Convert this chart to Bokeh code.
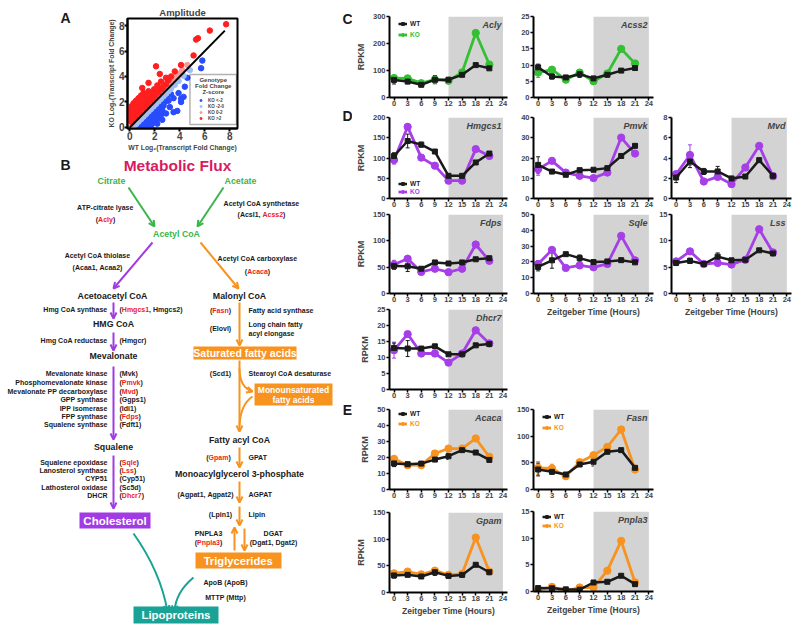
from bokeh.plotting import figure
from bokeh.layouts import row, column
from bokeh.models import (Range1d, Label, Arrow, OpenHead, Whisker, TeeHead,
                          ColumnDataSource, FixedTicker, Legend, LegendItem,
                          BoxAnnotation, Spacer)
from bokeh.embed import file_html
from bokeh.resources import INLINE
from bokeh.core.properties import value

FONT = "Liberation Sans"

# ======================= DATA =======================
# ---- Panel A: amplitude scatter (WT vs KO log2 fold change)
A_RED_X = [0.05, 0.05, 0.05, 0.05, 0.1, 0.25, 0.25, 0.25, 0.25, 0.3, 0.45, 0.45, 0.45, 0.45, 0.5,
           0.65, 0.65, 0.65, 0.65, 0.7, 0.85, 0.85, 0.85, 0.85, 0.9, 1.05, 1.05, 1.05, 1.05, 1.1,
           1.25, 1.25, 1.25, 1.3, 1.45, 1.45, 1.5, 1.5, 1.65, 1.65, 1.7, 1.85, 1.9, 1.95,
           2.05, 2.1, 2.2, 2.3, 2.4, 2.55, 2.7, 2.9, 3.1, 2.5,
           1.0, 1.5, 2.1, 2.4, 2.9, 3.6, 3.3, 4.1, 5.1, 5.3, 5.45, 6.4, 7.7, 0.15, 0.35]
A_RED_Y = [0.5, 0.8, 1.1, 1.4, 1.65, 0.7, 1.0, 1.3, 1.6, 1.9, 0.9, 1.2, 1.5, 1.8, 2.1,
           1.1, 1.4, 1.7, 2.0, 2.3, 1.3, 1.6, 1.9, 2.2, 2.5, 1.5, 1.8, 2.1, 2.4, 2.7,
           1.7, 2.0, 2.3, 2.6, 1.9, 2.2, 2.5, 2.85, 2.1, 2.4, 2.7, 2.3, 2.6, 3.0,
           2.5, 2.8, 3.3, 2.75, 3.1, 3.0, 3.2, 3.4, 3.7, 3.6,
           3.1, 3.5, 4.8, 4.2, 3.9, 4.4, 4.0, 4.9, 5.65, 6.9, 7.0, 7.6, 8.1, 0.45, 0.8]
A_SALMON_X = [0.1, 0.3, 0.5, 0.7, 0.9, 1.1, 1.3, 1.5, 1.7, 1.9, 2.1, 2.3, 2.5, 2.7, 2.9, 3.1,
              3.3, 3.5, 3.7, 3.9, 4.2, 4.6, 0.2, 0.6, 1.0, 1.4, 1.8, 2.2, 2.6, 3.0, 3.4, 3.8]
A_SALMON_Y = [0.35, 0.6, 0.8, 1.0, 1.2, 1.4, 1.6, 1.8, 2.0, 2.2, 2.4, 2.6, 2.8, 3.0, 3.2, 3.4,
              3.6, 3.8, 4.0, 4.2, 4.5, 4.9, 0.3, 0.75, 1.15, 1.55, 1.95, 2.35, 2.75, 3.15, 3.55, 3.95]
A_LBLUE_X = [0.3, 0.5, 0.7, 0.9, 1.1, 1.3, 1.5, 1.7, 1.9, 2.1, 2.3, 2.5, 2.7, 2.9, 3.1, 3.3,
             3.6, 3.9, 4.3, 4.8, 0.4, 0.8, 1.2, 1.6, 2.0, 2.4, 2.8, 3.2]
A_LBLUE_Y = [0.05, 0.25, 0.45, 0.65, 0.85, 1.05, 1.25, 1.45, 1.65, 1.85, 2.05, 2.25, 2.45, 2.65,
             2.85, 3.05, 3.35, 3.65, 4.05, 4.5, 0.25, 0.65, 1.05, 1.45, 1.85, 2.25, 2.65, 3.05]
A_BLUE_X = [0.5, 0.7, 0.9, 1.1, 1.3, 1.5, 1.7, 0.8, 1.0, 1.2, 1.4, 1.6, 1.8, 2.0,
            1.1, 1.3, 1.5, 1.7, 1.9, 2.1, 2.3, 1.4, 1.6, 1.8, 2.0, 2.2, 2.5,
            1.7, 1.9, 2.1, 2.3, 2.6, 2.0, 2.2, 2.4, 2.7, 2.3, 2.5, 2.8, 3.1, 2.7, 3.0, 3.3, 3.5,
            3.5, 3.8, 4.1, 4.1, 4.3, 3.9, 4.4, 4.6, 5.7, 5.8, 3.2, 2.9, 2.6, 2.2]
A_BLUE_Y = [0.05, 0.05, 0.05, 0.05, 0.05, 0.05, 0.1, 0.3, 0.3, 0.3, 0.3, 0.3, 0.35, 0.4,
            0.6, 0.6, 0.6, 0.6, 0.65, 0.7, 0.7, 0.9, 0.9, 0.9, 0.95, 1.0, 1.0,
            1.2, 1.2, 1.25, 1.3, 1.35, 1.5, 1.5, 1.6, 1.7, 1.8, 1.9, 2.0, 2.1, 2.2, 2.4, 2.6, 2.3,
            1.2, 1.3, 2.0, 2.25, 2.4, 2.7, 3.2, 3.9, 4.65, 5.25, 1.6, 1.1, 0.6, 0.3]
A_IDENTITY_X = [0, 7.6]
A_IDENTITY_Y = [0, 7.6]
A_TICKS = [0, 2, 4, 6, 8]
A_LEGEND_TITLE = ["Genotype", "Fold Change", "Z-score"]
A_LEGEND_LABELS = ["KO <-2", "KO -2-0", "KO 0-2", "KO >2"]
PANEL_LETTERS = ["A", "B", "C", "D", "E"]

# ---- Panels C-E: RPKM time courses
ZT = [0, 3, 6, 9, 12, 15, 18, 21]
ZT_TICKS = [0, 3, 6, 9, 12, 15, 18, 21, 24]
DARK_PHASE = [12, 24]

ACLY_WT = [65, 59, 47, 66, 66, 84, 120, 108]
ACLY_WT_ERR = [15, 8, 5, 15, 6, 35, 6, 8]
ACLY_KO = [72, 71, 53, 66, 62, 93, 239, 122]
ACLY_KO_ERR = [10, 6, 5, 8, 5, 20, 40, 15]

ACSS2_WT = [9.3, 6.5, 6.2, 7.2, 5.9, 7.0, 8.3, 9.1]
ACSS2_WT_ERR = [1.0, 0.8, 0.5, 1.0, 0.5, 3.0, 0.4, 1.5]
ACSS2_KO = [7.7, 8.6, 5.5, 7.7, 5.0, 7.4, 15.0, 10.5]
ACSS2_KO_ERR = [1.5, 0.5, 0.6, 0.8, 0.6, 1.5, 3.0, 2.5]

HMGCS1_WT = [105, 142, 133, 116, 56, 56, 89, 111]
HMGCS1_WT_ERR = [8, 17, 6, 4, 4, 22, 5, 4]
HMGCS1_KO = [95, 177, 101, 81, 44, 44, 122, 105]
HMGCS1_KO_ERR = [10, 6, 4, 4, 6, 6, 29, 4]

PMVK_WT = [16.6, 13.3, 11.7, 14.0, 14.2, 15.0, 21.0, 26.0]
PMVK_WT_ERR = [4, 1, 0.5, 0.5, 0.5, 7, 1.5, 1]
PMVK_KO = [14.5, 18.6, 12.8, 11.2, 10.1, 12.8, 30.1, 22.2]
PMVK_KO_ERR = [3, 0.8, 0.8, 0.5, 0.5, 1.5, 3.5, 1]

MVD_WT = [2.07, 3.65, 2.67, 2.67, 1.98, 2.17, 3.79, 2.24]
MVD_WT_ERR = [0.5, 0.6, 0.3, 0.5, 0.2, 0.9, 0.2, 0.1]
MVD_KO = [2.4, 4.3, 1.68, 2.14, 1.42, 3.06, 5.2, 2.2]
MVD_KO_ERR = [0.3, 1.0, 0.2, 0.3, 0.2, 0.3, 1.1, 0.1]

FDPS_WT = [52, 51.7, 47, 59, 57, 59, 65, 67]
FDPS_WT_ERR = [6, 10, 3, 3, 3, 21, 4, 5]
FDPS_KO = [55, 66, 41, 47, 40.5, 47, 93, 62]
FDPS_KO_ERR = [8, 4, 3, 3, 3, 5, 20, 6]

SQLE_WT = [16.8, 21, 24.9, 22.4, 19.9, 20.3, 21.1, 19.7]
SQLE_WT_ERR = [2.5, 5, 1, 2, 1, 5, 1, 1]
SQLE_KO = [18.7, 27.6, 16.2, 17.8, 16.6, 18.7, 36.5, 21]
SQLE_KO_ERR = [2, 1, 0.8, 0.8, 0.8, 2, 8, 1]

LSS_WT = [5.8, 6.2, 5.6, 7.0, 6.3, 6.4, 8.2, 7.6]
LSS_WT_ERR = [0.5, 0.5, 0.3, 0.7, 0.2, 1.6, 0.2, 0.3]
LSS_KO = [6.1, 8.0, 5.6, 5.8, 5.5, 6.4, 12.2, 7.8]
LSS_KO_ERR = [0.4, 0.3, 0.3, 0.3, 0.3, 0.5, 1.2, 0.3]

DHCR7_WT = [13, 12.8, 12.8, 13.5, 11, 11, 13.8, 14.2]
DHCR7_WT_ERR = [1.5, 2.5, 0.5, 0.5, 0.5, 2.5, 1.5, 0.8]
DHCR7_KO = [12.3, 17.3, 11.25, 11.25, 8.4, 11.25, 18.5, 14.4]
DHCR7_KO_ERR = [2.5, 0.5, 0.8, 0.5, 0.5, 2, 0.5, 0.5]

ACACA_WT = [16.3, 15.8, 16.2, 18.7, 20.8, 24.6, 23.1, 18.5]
ACACA_WT_ERR = [2, 1.5, 1, 0.5, 2, 4, 1, 2]
ACACA_KO = [19.2, 15.2, 15.2, 22.5, 25.6, 25.6, 31.9, 20.4]
ACACA_KO_ERR = [1.5, 1, 1, 1, 1, 2, 7, 4]

FASN_WT = [37.5, 33.1, 28.1, 46.9, 52, 70.7, 73.8, 40.6]
FASN_WT_ERR = [12, 4, 3, 3, 8, 33, 3, 4]
FASN_KO = [40.6, 39.4, 25, 51.2, 64.4, 80, 112.5, 37.5]
FASN_KO_ERR = [12, 8, 5, 3, 3, 5, 22, 4]

GPAM_WT = [32, 33.1, 30, 38, 31.1, 33, 52, 38]
GPAM_WT_ERR = [5, 3, 2, 6, 2, 14, 3, 2]
GPAM_KO = [36, 39.3, 34, 41, 33, 35, 103, 39.3]
GPAM_KO_ERR = [3, 3, 2, 3, 2, 3, 28, 2]

PNPLA3_WT = [0.64, 0.6, 0.4, 0.35, 1.69, 1.82, 2.95, 1.38]
PNPLA3_WT_ERR = [0.3, 0.2, 0.2, 0.1, 0.3, 1.2, 1.0, 0.3]
PNPLA3_KO = [0.32, 0.88, 0.1, 0.75, 0.75, 3.9, 9.5, 1.7]
PNPLA3_KO_ERR = [0.2, 0.3, 0.1, 0.3, 0.2, 1.3, 2.0, 0.8]

# ---- Panel B: metabolic flux diagram texts
FLUX_TITLE = "Metabolic Flux"
SUBSTRATES = ["Citrate", "Acetate", "Acetyl CoA"]
INTERMEDIATES = ["Acetoacetyl CoA", "HMG CoA", "Mevalonate", "Squalene",
                 "Malonyl CoA", "Fatty acyl CoA", "Monoacylglycerol 3-phosphate"]
PRODUCTS = ["Saturated fatty acids", "Monounsaturated\nfatty acids", "Cholesterol",
            "Triglycerides", "Lipoproteins"]
# (enzyme, genes, gene altered in KO)
STEP_ACLY = ("ATP-citrate lyase", ["Acly"], [True])
STEP_ACSS = ("Acetyl CoA synthetase", ["Acsl1", "Acss2"], [False, True])
STEP_THIOLASE = ("Acetyl CoA thiolase", ["Acaa1", "Acaa2"], [False, False])
STEP_ACACA = ("Acetyl CoA carboxylase", ["Acaca"], [True])
STEP_HMGCS = ("Hmg CoA synthase", ["Hmgcs1", "Hmgcs2"], [True, False])
STEP_HMGCR = ("Hmg CoA reductase", ["Hmgcr"], [False])
MEVALONATE_ENZ = ["Mevalonate kinase", "Phosphomevalonate kinase", "Mevalonate PP decarboxylase",
                  "GPP synthase", "IPP isomerase", "FPP synthase", "Squalene synthase"]
MEVALONATE_GENES = ["Mvk", "Pmvk", "Mvd", "Ggps1", "Idi1", "Fdps", "Fdft1"]
MEVALONATE_KO = [False, True, True, False, False, True, False]
SQUALENE_ENZ = ["Squalene epoxidase", "Lanosterol synthase", "CYP51", "Lathosterol oxidase", "DHCR"]
SQUALENE_GENES = ["Sqle", "Lss", "Cyp51", "Sc5d", "Dhcr7"]
SQUALENE_KO = [True, True, False, False, True]
STEP_FASN = ("Fatty acid synthase", ["Fasn"], [True])
STEP_ELOVL = ("Long chain fatty\nacyl elongase", ["Elovl"], [False])
STEP_SCD = ("Stearoyl CoA desaturase", ["Scd1"], [False])
STEP_GPAT = ("GPAT", ["Gpam"], [True])
STEP_AGPAT = ("AGPAT", ["Agpat1", "Agpat2"], [False, False])
STEP_LIPIN = ("Lipin", ["Lpin1"], [False])
STEP_PNPLA3 = ("PNPLA3", ["Pnpla3"], [True])
STEP_DGAT = ("DGAT", ["Dgat1", "Dgat2"], [False, False])
STEP_APOB = ("ApoB", ["ApoB"], [False])
STEP_MTTP = ("MTTP", ["Mttp"], [False])

# ======================= STYLE =======================
BLACK = "#1a1a1a"
RED = "#ec1c24"
GREEN_TXT = "#3cb54a"
PURPLE = "#a23be3"
ORANGE = "#f7931e"
TEAL = "#19a396"
PINK = "#d81b5f"
GREY = "#d3d3d3"
KO_GREEN = "#33c033"
KO_PURPLE = "#a63fe8"
KO_ORANGE = "#f7931e"
A_COLORS = {"blue": "#2a4cff", "lblue": "#9ec0f5", "salmon": "#f59a9a", "red": "#ff1f1f"}

# Arial/Liberation Sans Bold advance widths (1/1000 em)
_W = {" ": 278, "(": 333, ")": 333, ",": 278, "-": 333, ".": 278, ":": 333, "<": 584, ">": 584,
      "A": 722, "B": 722, "C": 722, "D": 722, "E": 667, "F": 611, "G": 778, "H": 722, "I": 278,
      "J": 556, "K": 722, "L": 611, "M": 833, "N": 722, "O": 778, "P": 667, "Q": 778, "R": 722,
      "S": 667, "T": 611, "U": 722, "V": 667, "W": 944, "X": 667, "Y": 667, "Z": 611,
      "a": 556, "b": 611, "c": 556, "d": 611, "e": 556, "f": 333, "g": 611, "h": 611, "i": 278,
      "j": 278, "k": 556, "l": 278, "m": 889, "n": 611, "o": 611, "p": 611, "q": 611, "r": 389,
      "s": 556, "t": 333, "u": 611, "v": 556, "w": 778, "x": 556, "y": 556, "z": 500}


def tw(s, size):
    return sum(_W.get(c, 556) for c in s) * size / 1000.0


def blank_fig(w, h, x0, x1, y_top, y_bot):
    f = figure(width=w, height=h, x_range=Range1d(x0, x1), y_range=Range1d(y_bot, y_top),
               output_backend="svg", toolbar_location=None, x_axis_location=None,
               y_axis_location=None, min_border_left=0, min_border_right=0,
               min_border_top=0, min_border_bottom=0)
    f.grid.visible = False
    f.outline_line_color = None
    return f


def letter_glyph(f, letters, xs, ys):
    f.text(x=xs, y=ys, text=letters, text_font=value(FONT), text_font_style="bold",
           text_font_size="14px", text_align="center", text_baseline="middle", text_color=BLACK)


# ======================= PANEL A =======================
pa = figure(width=137, height=155, x_range=Range1d(-0.18, 8.61), y_range=Range1d(-0.08, 8.55),
            output_backend="svg", toolbar_location=None,
            min_border_left=22, min_border_right=4, min_border_top=18, min_border_bottom=27)
pa.title.text = "Amplitude"
pa.title.align = "center"
pa.title.text_font = FONT
pa.title.text_font_size = "9.5px"
pa.title.text_font_style = "bold"
pa.title.standoff = 1
pa.grid.visible = False
pa.outline_line_color = "black"
pa.outline_line_width = 2
r_blue = pa.scatter(A_BLUE_X, A_BLUE_Y, size=5.5, color=A_COLORS["blue"])
r_lblue = pa.scatter(A_LBLUE_X, A_LBLUE_Y, size=5.5, color=A_COLORS["lblue"])
r_salmon = pa.scatter(A_SALMON_X, A_SALMON_Y, size=5.5, color=A_COLORS["salmon"])
r_red = pa.scatter(A_RED_X, A_RED_Y, size=5.5, color=A_COLORS["red"])
pa.line(A_IDENTITY_X, A_IDENTITY_Y, line_color="black", line_width=2)
for ax in (pa.xaxis[0], pa.yaxis[0]):
    ax.ticker = FixedTicker(ticks=A_TICKS)
    ax.axis_line_width = 2
    ax.major_tick_line_width = 2
    ax.major_tick_out = 3
    ax.major_tick_in = 0
    ax.minor_tick_line_color = None
    ax.major_label_text_font = FONT
    ax.major_label_text_font_style = "bold"
    ax.major_label_text_font_size = "10px"
    ax.major_label_standoff = 0
    ax.axis_label_text_font = FONT
    ax.axis_label_text_font_style = "bold"
    ax.axis_label_text_font_size = "6.8px"
    ax.axis_label_standoff = 1
pa.xaxis.axis_label = "WT Log\u2082(Transcript Fold Change)"
pa.yaxis.axis_label = "KO Log\u2082(Transcript Fold Change)"
pa.add_layout(BoxAnnotation(left=4.81, right=8.53, bottom=0.24, top=4.16, fill_alpha=0,
                            line_color="black", line_width=1.5))
for t, yy in zip(A_LEGEND_TITLE, [3.69, 3.22, 2.77]):
    pa.add_layout(Label(x=6.67, y=yy, text=t, text_align="center", text_baseline="middle",
                        text_font=FONT, text_font_style="bold", text_font_size="6px"))
pa.add_layout(Legend(items=[LegendItem(label=l, renderers=[r]) for l, r in
                            zip(A_LEGEND_LABELS, [r_blue, r_lblue, r_salmon, r_red])],
                     location=(71, 7), label_text_font=FONT, label_text_font_style="bold",
                     label_text_font_size="4.5px", glyph_width=5, glyph_height=6, label_height=6,
                     label_standoff=5, spacing=0, padding=0, margin=0,
                     border_line_alpha=0, background_fill_alpha=0))

# letter figures around panel A (x 0..104 and 241..352, y 0..155)
letA = blank_fig(104, 155, 0, 104, 0, 155)
letter_glyph(letA, [PANEL_LETTERS[0]], [65], [17])
letCD = blank_fig(111, 155, 241, 352, 0, 155)
letter_glyph(letCD, [PANEL_LETTERS[2], PANEL_LETTERS[3]], [347, 347], [18, 115])

# ======================= PANEL B =======================
pb = blank_fig(352, 476, 0, 352, 155, 631)

batches = {}


def put(segs, x, y, size, align="center", style="bold"):
    total = sum(tw(t, size) for t, _ in segs)
    left = x - total / 2 if align == "center" else (x - total if align == "right" else x)
    b = batches.setdefault((size, style), dict(x=[], y=[], text=[], color=[]))
    for t, c in segs:
        b["x"].append(left)
        b["y"].append(y)
        b["text"].append(t)
        b["color"].append(c)
        left += tw(t, size)


def gene_segs(names, flags):
    segs = [("(", BLACK)]
    for i, (n, f) in enumerate(zip(names, flags)):
        if i:
            segs.append((", ", BLACK))
        segs.append((n, RED if f else BLACK))
    segs.append((")", BLACK))
    return segs


ENZ = 7
MET = 8.8
put([(PANEL_LETTERS[1], BLACK)], 65, 164, 14)
put([(PANEL_LETTERS[4], BLACK)], 347, 409, 14)
put([(FLUX_TITLE, PINK)], 177, 165, 15.5)
for name, (x, y) in zip(SUBSTRATES, [(111, 180), (240, 180), (176, 233)]):
    put([(name, GREEN_TXT)], x, y, MET)
for name, (x, y) in zip(INTERMEDIATES, [(112, 295), (113, 323), (113, 355), (113, 446),
                                        (239, 295), (239, 439), (239, 473)]):
    put([(name, BLACK)], x, y, MET)

for step, (ex, ey), (gx, gy) in [(STEP_ACLY, (105, 207), (105, 219)),
                                 (STEP_ACSS, (261, 203), (261, 214)),
                                 (STEP_THIOLASE, (97, 255), (97, 267)),
                                 (STEP_ACACA, (257, 258), (257, 271)),
                                 (STEP_PNPLA3, (208, 533), (208, 542)),
                                 (STEP_DGAT, (273, 533), (273, 542))]:
    put([(step[0], BLACK)], ex, ey, ENZ)
    put(gene_segs(step[1], step[2]), gx, gy, ENZ)
for step, y in [(STEP_HMGCS, 309), (STEP_HMGCR, 340)]:
    put([(step[0], BLACK)], 107, y, ENZ, "right")
    put(gene_segs(step[1], step[2]), 119, y, ENZ, "left")
for enz, g, f, y in zip(MEVALONATE_ENZ, MEVALONATE_GENES, MEVALONATE_KO,
                        [373, 382, 391, 399, 407.5, 416, 424]):
    put([(enz, BLACK)], 107, y, ENZ, "right")
    put(gene_segs([g], [f]), 119, y, ENZ, "left")
for enz, g, f, y in zip(SQUALENE_ENZ, SQUALENE_GENES, SQUALENE_KO, [462, 470, 478, 487, 495]):
    put([(enz, BLACK)], 107, y, ENZ, "right")
    put(gene_segs([g], [f]), 119, y, ENZ, "left")
for step, gx, y in [(STEP_FASN, 220, 310), (STEP_SCD, 220, 373), (STEP_GPAT, 218, 457),
                    (STEP_AGPAT, 205, 494), (STEP_LIPIN, 220, 514)]:
    put(gene_segs(step[1], step[2]), gx, y, ENZ)
    put([(step[0], BLACK)], 248, y, ENZ, "left")
put(gene_segs(STEP_ELOVL[1], STEP_ELOVL[2]), 220, 328, ENZ)
for line, y in zip(STEP_ELOVL[0].split("\n"), [324, 333]):
    put([(line, BLACK)], 248, y, ENZ, "left")
for step, y in [(STEP_APOB, 582), (STEP_MTTP, 597)]:
    put([(step[0] + " ", BLACK)] + gene_segs(step[1], step[2]), 225, y, ENZ)

BOX_RECTS = [(193, 296, 346, 359), (254, 332, 383, 405), (79, 150, 512, 528),
             (195, 281, 552, 568), (133, 218, 606, 623)]
BOX_COLORS = [ORANGE, ORANGE, PURPLE, ORANGE, TEAL]
BOX_FONT = [10.5, 8.5, 11.5, 11.2, 11.4]
pb.quad(left=[b[0] for b in BOX_RECTS], right=[b[1] for b in BOX_RECTS],
        top=[b[2] for b in BOX_RECTS], bottom=[b[3] for b in BOX_RECTS],
        fill_color=BOX_COLORS, line_color=None)
for name, rect, fs in zip(PRODUCTS, BOX_RECTS, BOX_FONT):
    lines = name.split("\n")
    cx = (rect[0] + rect[1]) / 2
    cy = (rect[2] + rect[3]) / 2
    n = len(lines)
    for i, ln in enumerate(lines):
        put([(ln, "white")], cx, cy + (i - (n - 1) / 2) * 10, fs)

for (size, style), d in batches.items():
    pb.text(x="x", y="y", text="text", text_color="color", source=ColumnDataSource(d),
            text_font=value(FONT), text_font_style=style, text_font_size=f"{size}px",
            text_align="left", text_baseline="middle")

ARROWS = [
    (GREEN_TXT, (128, 187), (154, 226)), (GREEN_TXT, (223, 187), (197, 226)),
    (PURPLE, (152, 242), (113, 288)), (PURPLE, (113, 302), (113, 318)),
    (PURPLE, (113, 332), (113, 350)), (PURPLE, (113, 366), (113, 439)),
    (PURPLE, (113, 455), (113, 508)),
    (ORANGE, (200, 242), (238, 288)), (ORANGE, (239, 302), (239, 345)),
    (ORANGE, (239, 360), (239, 431)), (ORANGE, (239, 447), (239, 467)),
    (ORANGE, (239, 481), (239, 502)), (ORANGE, (239, 506), (239, 525)),
    (ORANGE, (234, 550), (234, 527)), (ORANGE, (244, 528), (244, 550)),
]
for c, s, e in ARROWS:
    pb.add_layout(Arrow(x_start=s[0], y_start=s[1], x_end=e[0], y_end=e[1], line_color=c,
                        line_width=2, end=OpenHead(size=6, line_color=c, line_width=2)))

CURVES = [  # (color, start, control, end, head)
    (ORANGE, (239, 368), (239, 387), (252, 391), True),
    (ORANGE, (239, 425), (240, 404), (252, 396), False),
    (TEAL, (133, 533), (160, 571), (167, 611), True),
    (TEAL, (193, 577), (175, 592), (174, 611), True),
]
for c, s, ctl, e, head in CURVES:
    pb.quadratic(x0=[s[0]], y0=[s[1]], cx=[ctl[0]], cy=[ctl[1]], x1=[e[0]], y1=[e[1]],
                 line_color=c, line_width=2)
    if head:
        dx, dy = e[0] - ctl[0], e[1] - ctl[1]
        n = (dx * dx + dy * dy) ** 0.5
        pb.add_layout(Arrow(x_start=e[0] - 2 * dx / n, y_start=e[1] - 2 * dy / n, x_end=e[0],
                            y_end=e[1], line_color=c, line_width=2,
                            end=OpenHead(size=6, line_color=c, line_width=2)))

# ======================= PANELS C-E =======================
COLS = {1: (159, 35, 4), 2: (143, 22, 1), 3: (146, 17, 9)}


def ts(name, wt, wt_err, ko, ko_err, color, ymax, yticks, col, h, bt, bb,
       ylabel=False, xlabel=False):
    w, bl, br = COLS[col]
    p = figure(width=w, height=h, x_range=Range1d(-1, 25), y_range=Range1d(0, ymax),
               output_backend="svg", toolbar_location=None,
               min_border_left=bl, min_border_right=br, min_border_top=bt, min_border_bottom=bb)
    p.grid.visible = False
    p.outline_line_color = None
    p.quad(left=[DARK_PHASE[0]], right=[DARK_PHASE[1]], bottom=[0], top=[ymax],
           fill_color=GREY, line_color=None)
    for ax in (p.xaxis[0], p.yaxis[0]):
        ax.axis_line_width = 2
        ax.major_tick_line_width = 1.5
        ax.major_tick_out = 3
        ax.major_tick_in = 0
        ax.minor_tick_line_color = None
        ax.major_label_text_font = FONT
        ax.major_label_text_font_style = "bold"
        ax.major_label_text_font_size = "7.5px"
        ax.major_label_standoff = 1
        ax.axis_label_text_font = FONT
        ax.axis_label_text_font_style = "bold"
    p.xaxis.major_label_standoff = 0
    p.xaxis.ticker = FixedTicker(ticks=ZT_TICKS)
    p.yaxis.ticker = FixedTicker(ticks=yticks)
    if ylabel:
        p.yaxis.axis_label = "RPKM"
        p.yaxis.axis_label_text_font_size = "9px"
        p.yaxis.axis_label_standoff = 4
    if xlabel:
        p.xaxis.axis_label = "Zeitgeber Time (Hours)"
        p.xaxis.axis_label_text_font_size = "8.5px"
        p.xaxis.axis_label_standoff = 2
    rends = {}
    for key, vals, errs, c, mk, sz, lw in [("ko", ko, ko_err, color, "circle", 7.3, 2.8),
                                           ("wt", wt, wt_err, BLACK, "square", 5, 2.5)]:
        src = ColumnDataSource(dict(x=ZT, y=vals, lo=[v - e for v, e in zip(vals, errs)],
                                    hi=[v + e for v, e in zip(vals, errs)]))
        p.add_layout(Whisker(source=src, base="x", upper="hi", lower="lo", line_color=c, line_width=1,
                             upper_head=TeeHead(size=4, line_color=c, line_width=1),
                             lower_head=TeeHead(size=4, line_color=c, line_width=1)))
        ln = p.line("x", "y", source=src, line_color=c, line_width=lw)
        sc = p.scatter("x", "y", source=src, marker=mk, size=sz, fill_color=c, line_color=c)
        rends[key] = [ln, sc]
    p.add_layout(Label(x=23.7, y=ymax, y_offset=-3, text=name, text_align="right", text_baseline="top",
                       text_font=FONT, text_font_style="bold italic", text_font_size="9px"))
    return p, rends


def add_legend(p, frame_h, rends, ko_color, left_px, centers):
    for (label, key, c), cy in zip([("WT", "wt", BLACK), ("KO", "ko", ko_color)], centers):
        p.add_layout(Legend(items=[LegendItem(label=label, renderers=rends[key])],
                            location=(left_px, frame_h - cy - 3.5),
                            label_text_font=FONT, label_text_font_style="bold",
                            label_text_font_size="6.5px", label_text_color=c,
                            glyph_width=9, glyph_height=7, label_height=7, label_standoff=3,
                            padding=0, margin=0, spacing=0,
                            border_line_alpha=0, background_fill_alpha=0))


acly, r = ts("Acly", ACLY_WT, ACLY_WT_ERR, ACLY_KO, ACLY_KO_ERR, KO_GREEN, 300,
             [0, 100, 200, 300], 1, 112, 16, 15, ylabel=True)
add_legend(acly, 81, r, KO_GREEN, 9, [7, 18])
acss2, _ = ts("Acss2", ACSS2_WT, ACSS2_WT_ERR, ACSS2_KO, ACSS2_KO_ERR, KO_GREEN, 25,
              [0, 5, 10, 15, 20, 25], 2, 112, 16, 15)

hmgcs1, r = ts("Hmgcs1", HMGCS1_WT, HMGCS1_WT_ERR, HMGCS1_KO, HMGCS1_KO_ERR, KO_PURPLE, 200,
               [0, 50, 100, 150, 200], 1, 99, 5, 13, ylabel=True)
add_legend(hmgcs1, 81, r, KO_PURPLE, 9, [66, 74])
pmvk, _ = ts("Pmvk", PMVK_WT, PMVK_WT_ERR, PMVK_KO, PMVK_KO_ERR, KO_PURPLE, 40,
             [0, 10, 20, 30, 40], 2, 99, 5, 13)
mvd, _ = ts("Mvd", MVD_WT, MVD_WT_ERR, MVD_KO, MVD_KO_ERR, KO_PURPLE, 8,
            [0, 2, 4, 6, 8], 3, 99, 5, 13)

fdps, _ = ts("Fdps", FDPS_WT, FDPS_WT_ERR, FDPS_KO, FDPS_KO_ERR, KO_PURPLE, 150,
             [0, 50, 100, 150], 1, 95, 3, 13, ylabel=True)
sqle, _ = ts("Sqle", SQLE_WT, SQLE_WT_ERR, SQLE_KO, SQLE_KO_ERR, KO_PURPLE, 50,
             [0, 10, 20, 30, 40, 50], 2, 111, 3, 29, xlabel=True)
lss, _ = ts("Lss", LSS_WT, LSS_WT_ERR, LSS_KO, LSS_KO_ERR, KO_PURPLE, 15,
            [0, 5, 10, 15], 3, 111, 3, 29, xlabel=True)

dhcr7, _ = ts("Dhcr7", DHCR7_WT, DHCR7_WT_ERR, DHCR7_KO, DHCR7_KO_ERR, KO_PURPLE, 25,
              [0, 5, 10, 15, 20, 25], 1, 96, 3, 13, ylabel=True)

acaca, r = ts("Acaca", ACACA_WT, ACACA_WT_ERR, ACACA_KO, ACACA_KO_ERR, KO_ORANGE, 50,
              [0, 10, 20, 30, 40, 50], 1, 100, 7, 13, ylabel=True)
add_legend(acaca, 80, r, KO_ORANGE, 9, [4, 14])
fasn, r = ts("Fasn", FASN_WT, FASN_WT_ERR, FASN_KO, FASN_KO_ERR, KO_ORANGE, 150,
             [0, 50, 100, 150], 2, 100, 7, 13)
add_legend(fasn, 80, r, KO_ORANGE, 9, [7, 18])

gpam, _ = ts("Gpam", GPAM_WT, GPAM_WT_ERR, GPAM_KO, GPAM_KO_ERR, KO_ORANGE, 150,
             [0, 50, 100, 150], 1, 129, 10, 39, ylabel=True, xlabel=True)
pnpla3, r = ts("Pnpla3", PNPLA3_WT, PNPLA3_WT_ERR, PNPLA3_KO, PNPLA3_KO_ERR, KO_ORANGE, 15,
               [0, 5, 10, 15], 2, 129, 9, 40, xlabel=True)
add_legend(pnpla3, 80, r, KO_ORANGE, 9, [5, 14])

top_left = row(column(letA), pa, column(letCD))
left = column(top_left, pb)
c1 = column(acly, hmgcs1, fdps, dhcr7, acaca, gpam)
c2 = column(acss2, pmvk, sqle, Spacer(width=143, height=80), fasn, pnpla3)
c3 = column(Spacer(width=146, height=112), mvd, lss, Spacer(width=146, height=309))
layout = row(left, c1, c2, c3)

open("out.html", "w").write(file_html(layout, INLINE))
